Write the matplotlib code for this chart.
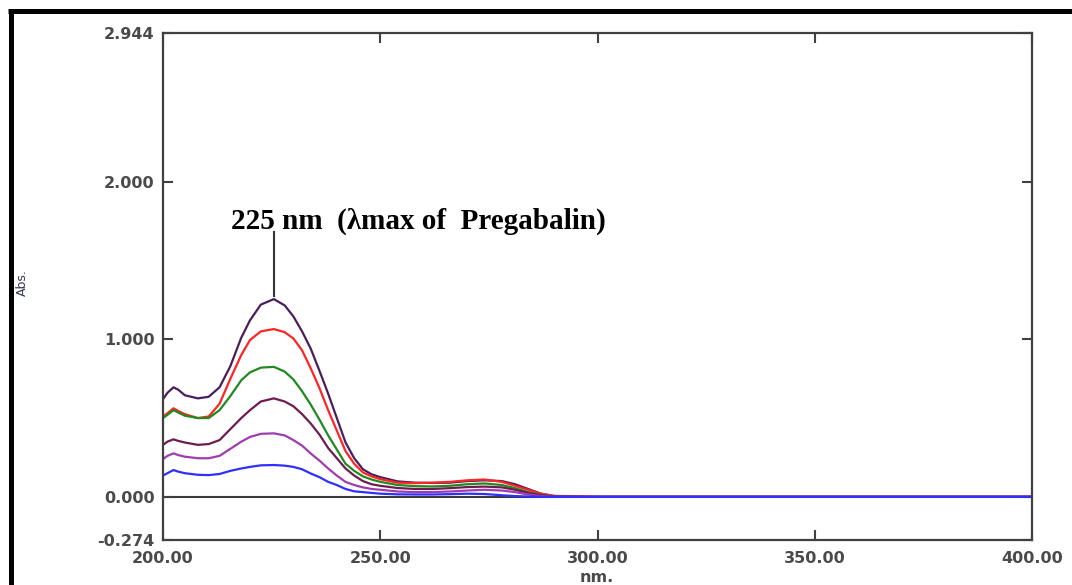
import matplotlib
matplotlib.use("Agg")
import matplotlib.pyplot as plt
from matplotlib.font_manager import FontProperties
from matplotlib.lines import Line2D

# wavelength grid (nm)
wavelength = [200, 201, 202.4, 203.5, 205, 208, 210.5, 213, 215.5, 218,
              220, 222.5, 225.5, 228, 230, 232, 234, 236, 238, 240,
              242, 244, 246, 248, 250, 254, 258, 262, 266, 270,
              274, 278, 281, 284, 287, 290, 296, 300, 400]

# absorbance of the six standard solutions (top to bottom)
abs_s6 = [0.62, 0.66, 0.695, 0.68, 0.645, 0.625, 0.635, 0.695, 0.83, 1.01,
          1.12, 1.22, 1.255, 1.215, 1.145, 1.05, 0.94, 0.80, 0.655, 0.50,
          0.345, 0.245, 0.175, 0.143, 0.125, 0.098, 0.09, 0.088, 0.09, 0.10,
          0.105, 0.10, 0.08, 0.05, 0.02, 0.005, 0.0, 0.0, 0.0]
abs_s5 = [0.51, 0.53, 0.562, 0.545, 0.525, 0.50, 0.51, 0.59, 0.75, 0.90,
          0.995, 1.05, 1.065, 1.045, 1.005, 0.93, 0.815, 0.69, 0.55, 0.42,
          0.29, 0.21, 0.155, 0.13, 0.112, 0.09, 0.087, 0.09, 0.095, 0.105,
          0.11, 0.095, 0.07, 0.045, 0.02, 0.006, 0.004, 0.0, 0.0]
abs_s4 = [0.50, 0.52, 0.55, 0.535, 0.515, 0.50, 0.50, 0.55, 0.64, 0.74,
          0.79, 0.82, 0.825, 0.795, 0.745, 0.67, 0.585, 0.49, 0.39, 0.30,
          0.21, 0.165, 0.13, 0.11, 0.095, 0.075, 0.068, 0.066, 0.07, 0.08,
          0.085, 0.075, 0.055, 0.03, 0.012, 0.003, 0.0, 0.0, 0.0]
abs_s3 = [0.33, 0.35, 0.365, 0.355, 0.345, 0.33, 0.335, 0.36, 0.43, 0.50,
          0.55, 0.605, 0.625, 0.605, 0.575, 0.525, 0.465, 0.395, 0.31, 0.245,
          0.18, 0.135, 0.10, 0.08, 0.07, 0.056, 0.05, 0.05, 0.055, 0.062,
          0.065, 0.06, 0.045, 0.025, 0.01, 0.002, 0.0, 0.0, 0.0]
abs_s2 = [0.24, 0.26, 0.276, 0.265, 0.255, 0.245, 0.245, 0.26, 0.305, 0.35,
          0.38, 0.40, 0.403, 0.39, 0.36, 0.325, 0.275, 0.23, 0.18, 0.135,
          0.095, 0.075, 0.06, 0.05, 0.045, 0.034, 0.03, 0.03, 0.034, 0.04,
          0.045, 0.04, 0.03, 0.015, 0.005, 0.0, 0.0, 0.0, 0.0]
abs_s1 = [0.135, 0.15, 0.17, 0.16, 0.15, 0.14, 0.138, 0.145, 0.165, 0.18,
          0.19, 0.20, 0.202, 0.198, 0.19, 0.175, 0.148, 0.125, 0.095, 0.075,
          0.05, 0.035, 0.03, 0.025, 0.02, 0.016, 0.015, 0.015, 0.017, 0.02,
          0.018, 0.01, 0.005, 0.002, 0.0, 0.0, 0.0, 0.0, 0.0]

series = [abs_s6, abs_s5, abs_s4, abs_s3, abs_s2, abs_s1]
colors = ["#4a1e5c", "#ff2424", "#1f8a1f", "#6e1c4e", "#a03cb0", "#2f2fff"]

xticks = [200, 250, 300, 350, 400]
xtick_labels = ["200.00", "250.00", "300.00", "350.00", "400.00"]
yticks = [-0.274, 0.0, 1.0, 2.0, 2.944]
ytick_labels = ["-0.274", "0.000", "1.000", "2.000", "2.944"]

peak_nm = 225.5
label_text = "225 nm  (\u03bbmax of  Pregabalin)"

fig = plt.figure(figsize=(10.72, 5.85), dpi=100)
ax = fig.add_axes([0.1521, 0.0769, 0.8106, 0.8667])

ax.axhline(0, color="#3a3a3a", lw=1.5, zorder=1)
for vals, c in zip(series, colors):
    ax.plot(wavelength, vals, color=c, lw=1.6, zorder=2)

# marker line and label for lambda max
ax.plot([peak_nm, peak_nm], [1.275, 1.68], color="#333333", lw=1.5)
ax.text(215.6, 1.70, label_text, fontsize=21, fontweight="bold",
        family="Liberation Serif", ha="left", va="baseline", color="black")

ax.set_xlim(200, 400)
ax.set_ylim(-0.274, 2.944)
ax.set_xticks(xticks)
ax.set_xticklabels(xtick_labels)
ax.set_yticks(yticks)
ax.set_yticklabels(ytick_labels)

tick_font = FontProperties(family="DejaVu Sans", weight="bold", size=11.5)
for lab in ax.get_xticklabels() + ax.get_yticklabels():
    lab.set_fontproperties(tick_font)
    lab.set_color("#4a4a4a")

ax.tick_params(axis="both", direction="in", length=7, width=1.5,
               color="#404040", top=True, right=True)
ax.tick_params(axis="x", pad=8)
ax.tick_params(axis="y", pad=6)

for sp in ax.spines.values():
    sp.set_color("#404040")
    sp.set_linewidth(1.6)

fig.text(597 / 1072, 1 - 577 / 585, "nm.", ha="center", va="center",
         fontsize=11.5, fontweight="bold", color="#4a4a4a")
fig.text(22 / 1072, 1 - 283 / 585, "Abs.", rotation=90, ha="center",
         va="center", fontsize=9, color="#333355")

# outer black frame (top and left edges)
fig.add_artist(Line2D([8 / 1072, 1.0], [1 - 11 / 585, 1 - 11 / 585],
                      transform=fig.transFigure, color="black", lw=3.6,
                      solid_capstyle="butt"))
fig.add_artist(Line2D([10.5 / 1072, 10.5 / 1072], [0.0, 1 - 9 / 585],
                      transform=fig.transFigure, color="black", lw=3.6,
                      solid_capstyle="butt"))

fig.savefig("out.png", dpi=100)
